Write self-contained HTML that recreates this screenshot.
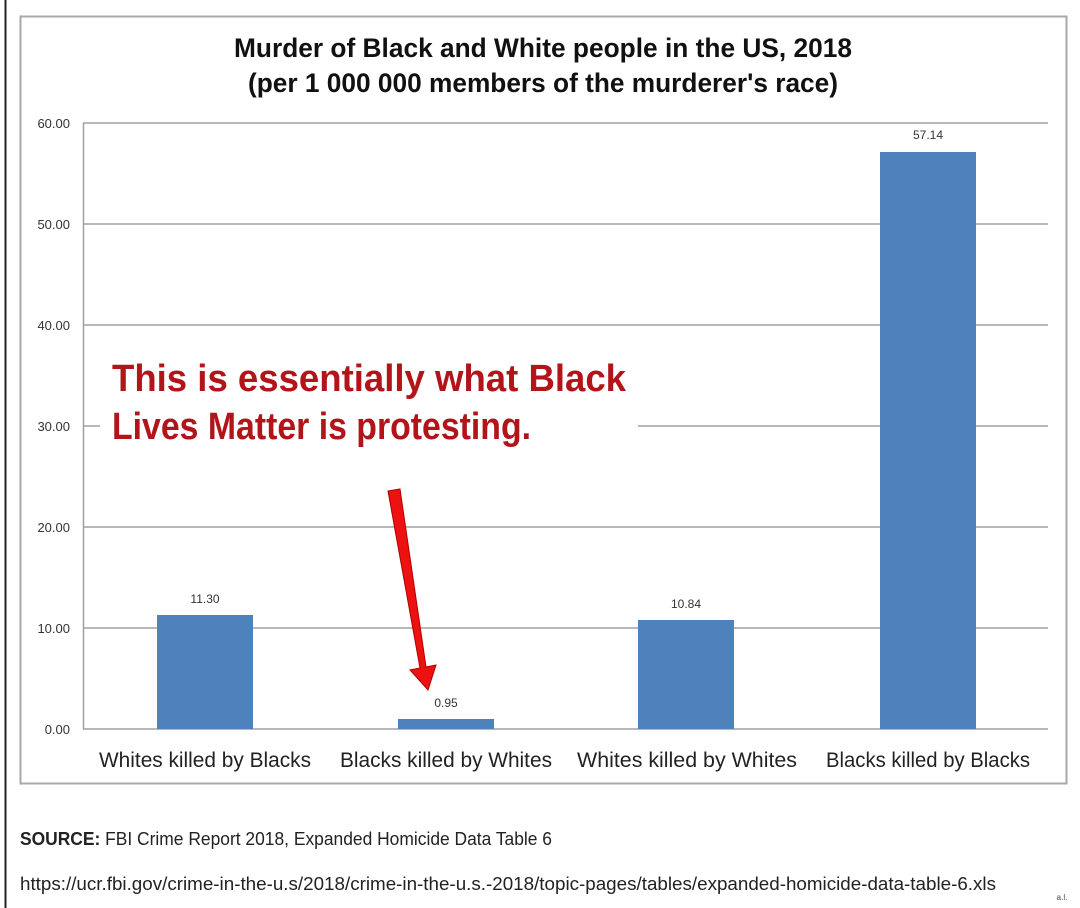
<!DOCTYPE html>
<html><head><meta charset="utf-8"><style>
html,body{margin:0;padding:0;background:#fff;}
svg{display:block;font-family:"Liberation Sans",Arial,sans-serif;}
</style></head><body>
<svg width="1080" height="908" viewBox="0 0 1080 908" xmlns="http://www.w3.org/2000/svg">
<rect width="1080" height="908" fill="#fff"/>
<line x1="5.5" y1="0" x2="5.5" y2="908" stroke="#222" stroke-width="2"/>
<rect x="20.5" y="16.5" width="1046" height="767" fill="none" stroke="#a8a8a8" stroke-width="2"/>
<text x="543" y="57" text-anchor="middle" font-size="27" font-weight="bold" fill="#111" textLength="618" lengthAdjust="spacingAndGlyphs">Murder of Black and White people in the US, 2018</text>
<text x="543" y="92" text-anchor="middle" font-size="27" font-weight="bold" fill="#111" textLength="590" lengthAdjust="spacingAndGlyphs">(per 1 000 000 members of the murderer's race)</text>
<g stroke="#a0a0a0" stroke-width="1.5">
<line x1="83" y1="123" x2="1048" y2="123"/>
<line x1="83" y1="224" x2="1048" y2="224"/>
<line x1="83" y1="325" x2="1048" y2="325"/>
<line x1="83" y1="426" x2="1048" y2="426"/>
<line x1="83" y1="527" x2="1048" y2="527"/>
<line x1="83" y1="628" x2="1048" y2="628"/>
<line x1="83" y1="729" x2="1048" y2="729"/>
<line x1="83.5" y1="123" x2="83.5" y2="729"/>
</g>
<g font-size="13" fill="#333" text-anchor="end">
<text x="70" y="128">60.00</text><text x="70" y="229">50.00</text><text x="70" y="330">40.00</text>
<text x="70" y="431">30.00</text><text x="70" y="532">20.00</text><text x="70" y="633">10.00</text><text x="70" y="734">0.00</text>
</g>
<g fill="#4f81bd">
<rect x="157" y="615" width="96" height="114"/>
<rect x="398" y="719" width="96" height="10"/>
<rect x="638" y="620" width="96" height="109"/>
<rect x="880" y="152" width="96" height="577"/>
</g>
<g font-size="12" fill="#333" text-anchor="middle">
<text x="205" y="603">11.30</text><text x="446" y="707">0.95</text>
<text x="686" y="608">10.84</text><text x="928" y="139">57.14</text>
</g>
<g font-size="21" fill="#222" text-anchor="middle">
<text x="205" y="767" textLength="212" lengthAdjust="spacingAndGlyphs">Whites killed by Blacks</text>
<text x="446" y="767" textLength="212" lengthAdjust="spacingAndGlyphs">Blacks killed by Whites</text>
<text x="687" y="767" textLength="220" lengthAdjust="spacingAndGlyphs">Whites killed by Whites</text>
<text x="928" y="767" textLength="204" lengthAdjust="spacingAndGlyphs">Blacks killed by Blacks</text>
</g>
<rect x="100" y="352" width="538" height="104" fill="#fff"/>
<text x="112" y="391" font-size="38" font-weight="bold" fill="#b3141a" textLength="514" lengthAdjust="spacingAndGlyphs">This is essentially what Black</text>
<text x="112" y="439" font-size="38" font-weight="bold" fill="#b3141a" textLength="419" lengthAdjust="spacingAndGlyphs">Lives Matter is protesting.</text>
<polygon points="388,491 400,489 426,667 436,665 428,690 410,670 420,668" fill="#ee1111" stroke="#b00000" stroke-width="1"/>
<text x="20" y="845" font-size="18" fill="#222" textLength="532" lengthAdjust="spacingAndGlyphs"><tspan font-weight="bold">SOURCE:</tspan> FBI Crime Report 2018, Expanded Homicide Data Table 6</text>
<text x="20" y="890" font-size="18" fill="#222" textLength="976" lengthAdjust="spacingAndGlyphs">https://ucr.fbi.gov/crime-in-the-u.s/2018/crime-in-the-u.s.-2018/topic-pages/tables/expanded-homicide-data-table-6.xls</text>
<text x="1062" y="900" font-size="8" fill="#444" text-anchor="middle">a.l.</text>
</svg>
</body></html>
